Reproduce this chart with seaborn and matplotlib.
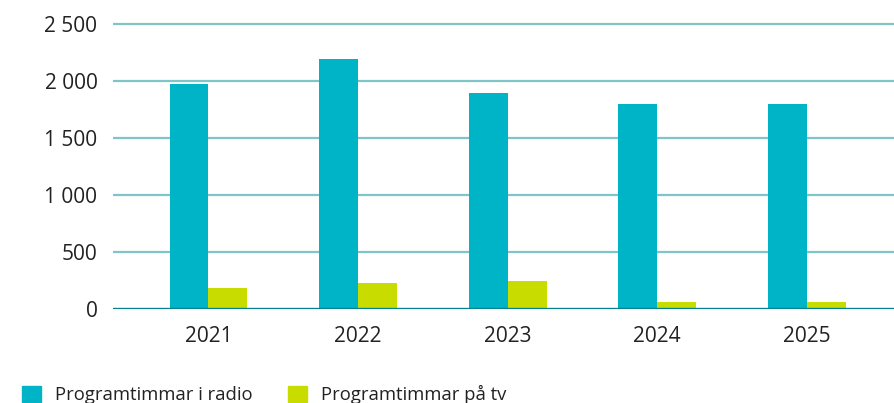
import matplotlib
matplotlib.use("Agg")
import matplotlib.pyplot as plt
import seaborn as sns
import pandas as pd
from matplotlib.ticker import FixedLocator, FixedFormatter

# data
years = ["2021", "2022", "2023", "2024", "2025"]
radio = [1975, 2190, 1890, 1795, 1795]
tv = [185, 230, 245, 60, 60]
series_names = ["Programtimmar i radio", "Programtimmar på tv"]
y_ticks = [0, 500, 1000, 1500, 2000, 2500]
y_labels = ["0", "500", "1 000", "1 500", "2 000", "2 500"]

colors = ["#00b4c8", "#c8dc00"]

df = pd.DataFrame({
    "year": years * 2,
    "hours": radio + tv,
    "series": [series_names[0]] * len(years) + [series_names[1]] * len(years),
})

sns.set_style("white")
plt.rcParams["font.family"] = ["Open Sans", "DejaVu Sans"]

fig = plt.figure(figsize=(8.95, 4.03), dpi=100)
ax = fig.add_axes([0.126, 0.233, 0.874, 0.722])

sns.barplot(data=df, x="year", y="hours", hue="series", palette=colors,
            width=0.52, saturation=1, linewidth=0, ax=ax, legend=False, zorder=3)

ax.set_xlim(-0.64, 4.59)
ax.set_ylim(0, 2550)
ax.yaxis.set_major_locator(FixedLocator(y_ticks))
ax.yaxis.set_major_formatter(FixedFormatter(y_labels))
for t in y_ticks[1:]:
    ax.axhline(t, color="#7fc4c8", lw=1.6, zorder=1)
ax.axhline(0, color="#00838f", lw=2.4, zorder=4)

for s in ax.spines.values():
    s.set_visible(False)
ax.set_xlabel("")
ax.set_ylabel("")
ax.tick_params(axis="both", length=0, labelsize=15, colors="#222222")
ax.tick_params(axis="y", pad=11)
ax.tick_params(axis="x", pad=12)

handles = [plt.Rectangle((0, 0), 1, 1, color=c) for c in colors]
fig.legend(handles, series_names, loc="center left", bbox_to_anchor=(0.0065, 0.02),
           ncol=2, frameon=False, fontsize=13.3, handlelength=1.0, handleheight=1.0,
           handletextpad=0.75, columnspacing=1.95, labelcolor="#222222")

fig.savefig("out.png", dpi=100)
